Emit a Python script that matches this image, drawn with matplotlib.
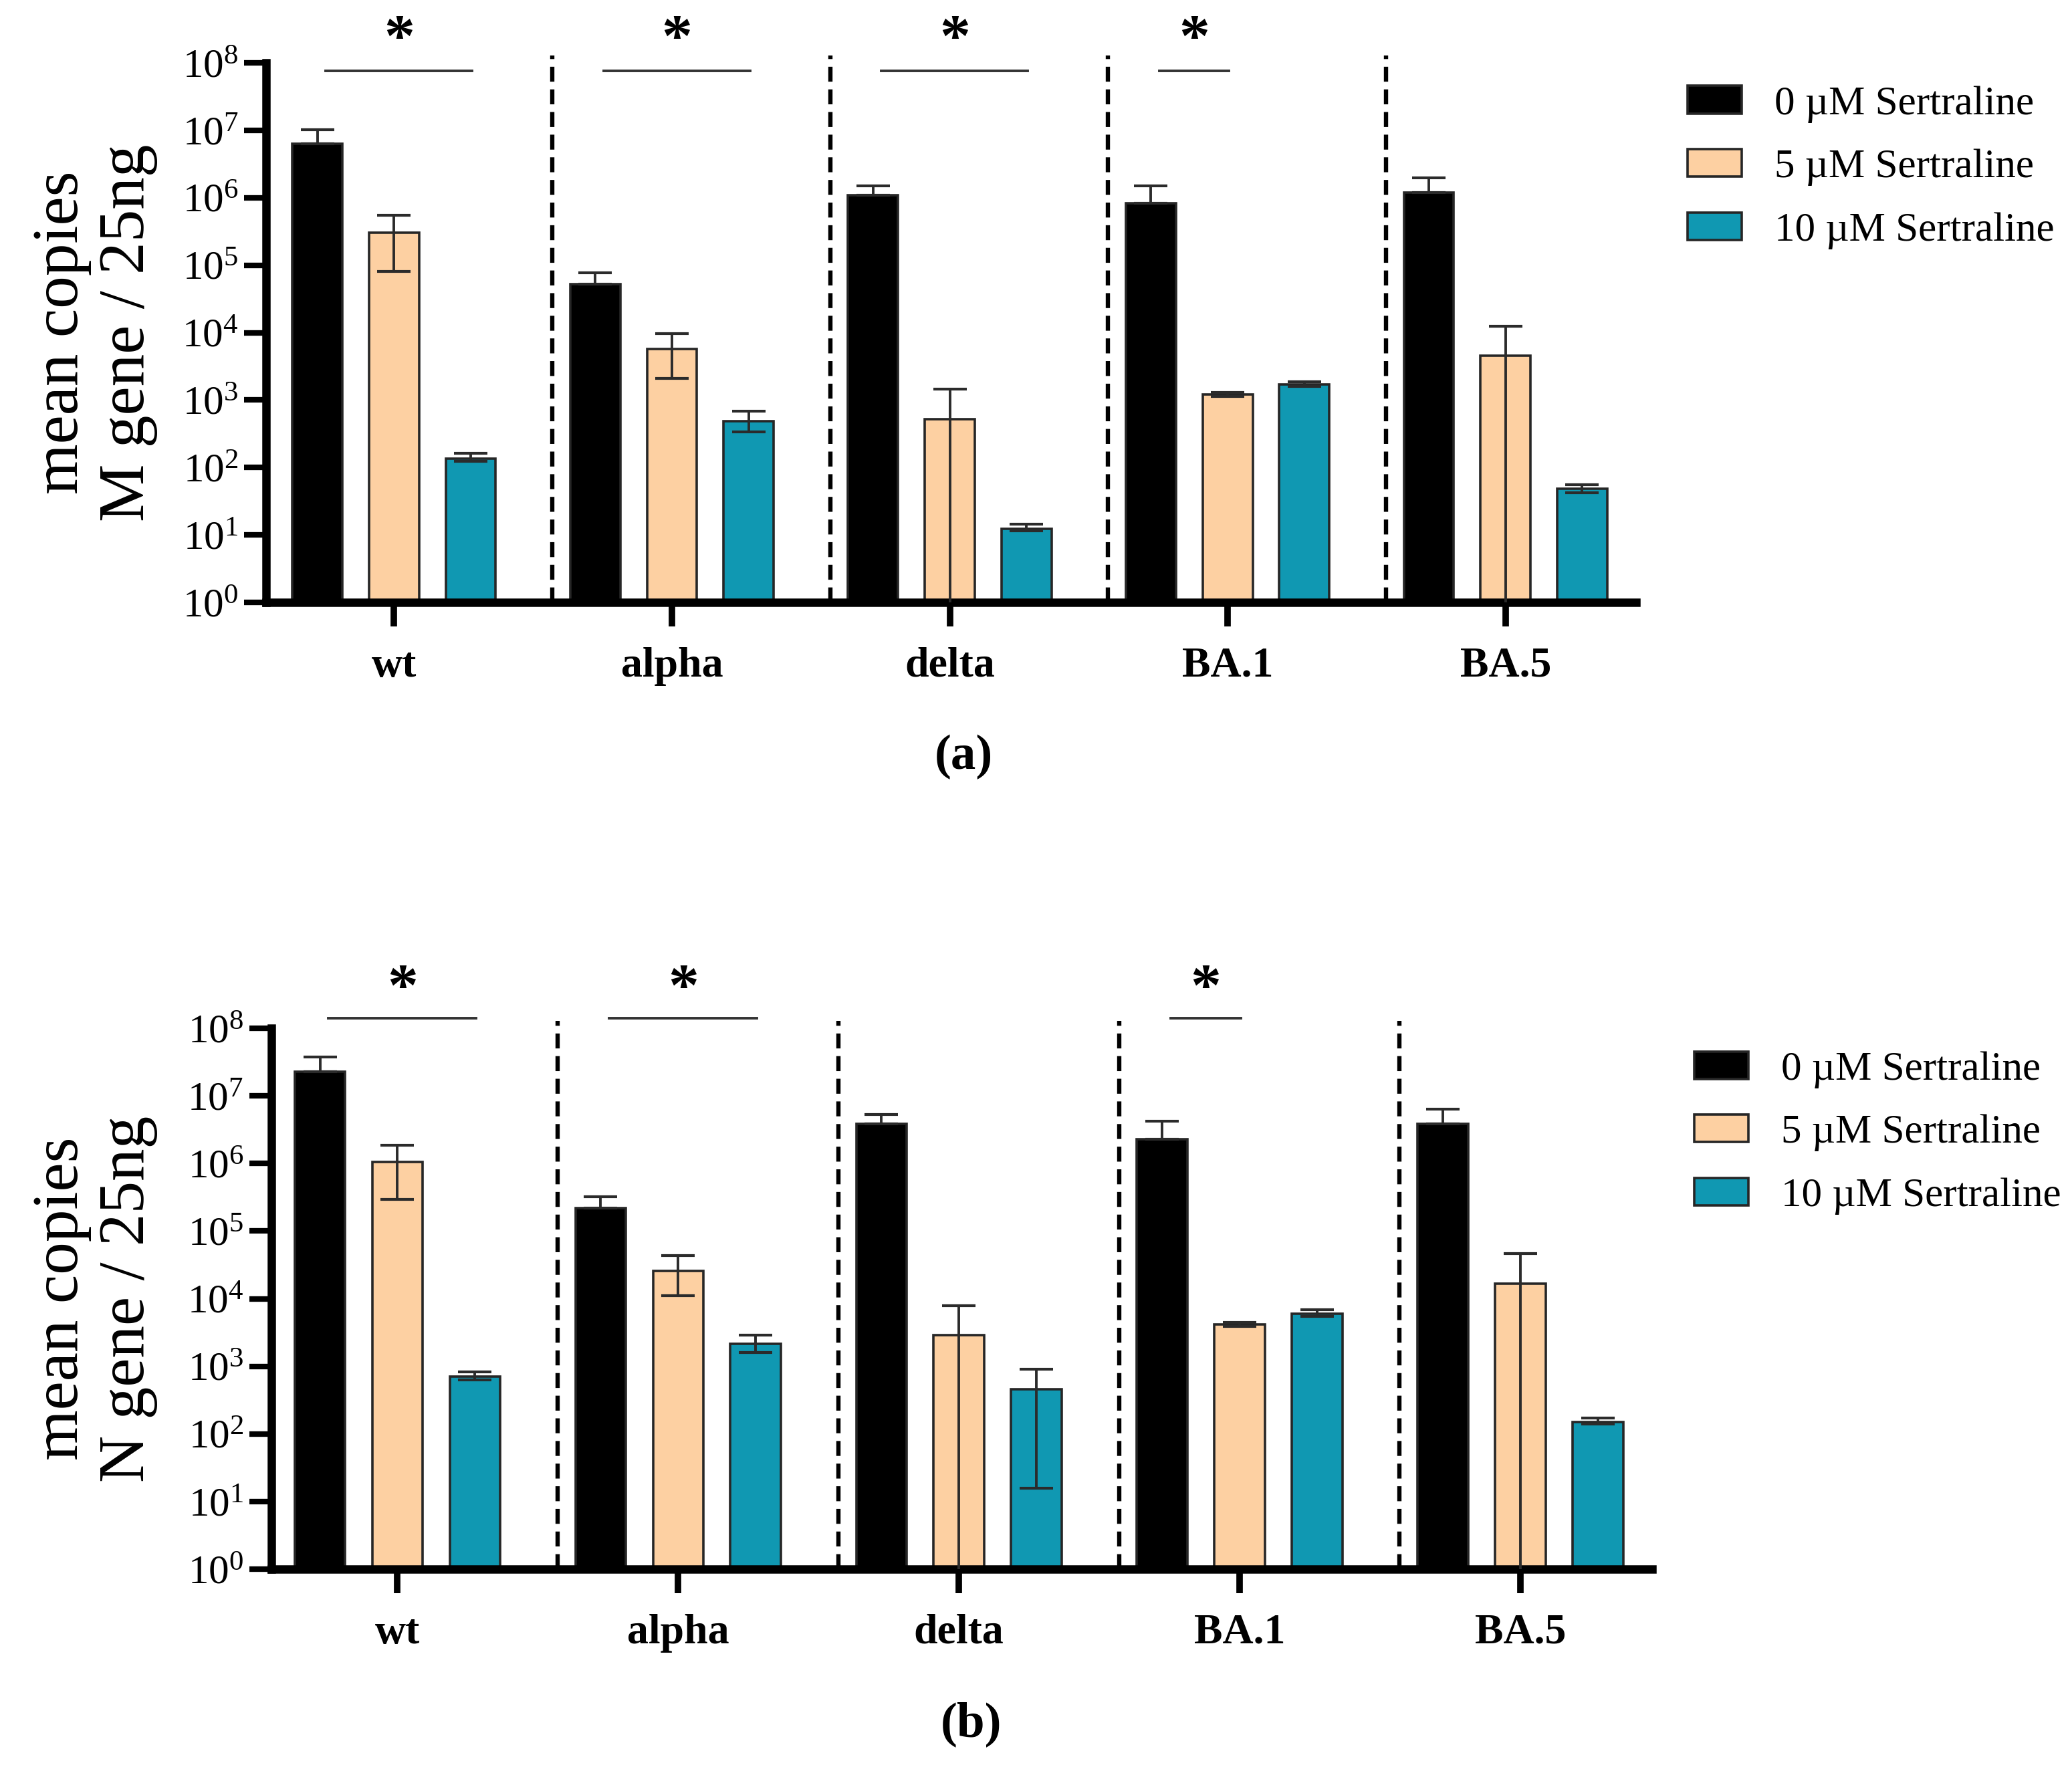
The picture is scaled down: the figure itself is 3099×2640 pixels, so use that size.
import numpy as np
import matplotlib
matplotlib.use("Agg")
import matplotlib.pyplot as plt
from matplotlib.ticker import NullLocator

plt.rcParams['font.family'] = ['Liberation Serif', 'DejaVu Serif']
plt.rcParams['mathtext.fontset'] = 'custom'
plt.rcParams['mathtext.rm'] = 'Liberation Serif'
plt.rcParams['mathtext.it'] = 'Liberation Serif:italic'
plt.rcParams['mathtext.bf'] = 'Liberation Serif:bold'

variants = ['wt', 'alpha', 'delta', 'BA.1', 'BA.5']
doses = ['0 µM Sertraline', '5 µM Sertraline', '10 µM Sertraline']
colors = ['#000000', '#FDD0A2', '#1098B2']

# (a) M gene -- mean copies and error bar ends (lower, upper)
m_mean_0 = [6.3e6, 5.2e4, 1.1e6, 8.3e5, 1.18e6]
m_lo_0 = [6.3e6, 5.2e4, 1.1e6, 8.3e5, 1.18e6]
m_hi_0 = [1.02e7, 7.7e4, 1.5e6, 1.5e6, 1.96e6]
m_mean_5 = [3.0e5, 5.7e3, 520, 1.2e3, 4.5e3]
m_lo_5 = [8.0e4, 2.1e3, 0.5, 1.12e3, 0.5]
m_hi_5 = [5.5e5, 9.6e3, 1.45e3, 1.3e3, 1.24e4]
m_mean_10 = [135, 490, 12.3, 1.7e3, 48]
m_lo_10 = [123, 340, 11.5, 1.6e3, 42]
m_hi_10 = [162, 680, 14.5, 1.86e3, 55]

# (b) N gene
n_mean_0 = [2.3e7, 2.2e5, 3.9e6, 2.3e6, 3.9e6]
n_lo_0 = [2.3e7, 2.2e5, 3.9e6, 2.3e6, 3.9e6]
n_hi_0 = [3.8e7, 3.2e5, 5.3e6, 4.2e6, 6.3e6]
n_mean_5 = [1.05e6, 2.6e4, 2.9e3, 4.2e3, 1.66e4]
n_lo_5 = [2.95e5, 1.1e4, 0.5, 3.9e3, 0.5]
n_hi_5 = [1.87e6, 4.3e4, 7.9e3, 4.5e3, 4.7e4]
n_mean_10 = [708, 2.15e3, 455, 6.0e3, 150]
n_lo_10 = [635, 1.6e3, 15.8, 5.5e3, 140]
n_hi_10 = [830, 2.9e3, 910, 6.9e3, 170]

# significance: variant and last dose group compared with 0 µM
m_sig_variants = ['wt', 'alpha', 'delta', 'BA.1']
m_sig_last = [2, 2, 2, 1]
n_sig_variants = ['wt', 'alpha', 'BA.1']
n_sig_last = [2, 2, 1]

W, H, DPI = 3099, 2640, 200
fig = plt.figure(figsize=(W / DPI, H / DPI), dpi=DPI)

offsets = [-0.276, 0.0, 0.276]
bar_w = 0.18
x = np.arange(len(variants))


def draw_panel(ax, means, lows, highs, sig_vars, sig_last, line_y, star_y, xlim):
    ax.set_yscale('log')
    handles = []
    for k in range(3):
        m = np.array(means[k])
        lo = np.array(lows[k])
        hi = np.array(highs[k])
        b = ax.bar(x + offsets[k], m, bar_w, color=colors[k],
                   edgecolor='#262626', linewidth=1.3, zorder=2)
        handles.append(b)
        ax.errorbar(x + offsets[k], m, yerr=[m - lo, hi - m], fmt='none',
                    ecolor='#2b2b2b', elinewidth=1.4, capsize=9, capthick=1.5, zorder=3)
    ax.set_ylim(1, 1e8)
    ax.set_xlim(*xlim)
    ax.set_yticks([10.0 ** k for k in range(9)])
    ax.set_yticklabels([rf'$\mathregular{{10^{{{k}}}}}$' for k in range(9)])
    ax.yaxis.set_minor_locator(NullLocator())
    ax.set_xticks(x)
    ax.set_xticklabels(variants, fontweight='bold')
    for s in ['top', 'right']:
        ax.spines[s].set_visible(False)
    for s in ['left', 'bottom']:
        ax.spines[s].set_linewidth(4.5)
    ax.tick_params(axis='y', length=12, width=3, labelsize=22, pad=3)
    ax.tick_params(axis='x', length=13, width=3.5, labelsize=23, pad=11)

    # dashed separators between variant groups
    ax.vlines(x[:-1] + 0.57, 1, 10 ** 8.11, colors='black', linewidth=2.3,
              linestyles=(0, (3.5, 1.8)), clip_on=False, zorder=1)

    # significance bars
    for v, last in zip(sig_vars, sig_last):
        i = variants.index(v)
        x0 = i + offsets[0] + 0.03
        x1 = i + offsets[last] + 0.005
        ax.plot([x0, x1], [line_y, line_y], color='#333333', linewidth=1.4,
                clip_on=False)
        ax.text((x0 + x1) / 2, star_y, '*', fontsize=33, fontweight='bold',
                ha='center', va='center', clip_on=False)
    return handles


# panel (a)
ax_a = fig.add_axes([0.1285, 0.6587, 0.661, 0.3057])
h_a = draw_panel(ax_a, [m_mean_0, m_mean_5, m_mean_10], [m_lo_0, m_lo_5, m_lo_10],
                 [m_hi_0, m_hi_5, m_hi_10], m_sig_variants, m_sig_last,
                 10 ** 7.88, 10 ** 8.32, (-0.46, 4.469))
fig.text(0.030, 0.8116, 'mean copies', rotation=90, fontsize=35, ha='center', va='center')
fig.text(0.062, 0.8116, 'M gene / 25ng', rotation=90, fontsize=35, ha='center', va='center')
ax_a.legend(h_a, doses, loc='upper left', bbox_to_anchor=(0.8145, 0.9515),
            bbox_transform=fig.transFigure, frameon=False, fontsize=22,
            handlelength=1.33, handleheight=0.66, handletextpad=0.8,
            labelspacing=0.64, borderpad=0, borderaxespad=0)
fig.text(0.465, 0.571, '(a)', fontsize=27, fontweight='bold', ha='center', va='center')

# panel (b)
ax_b = fig.add_axes([0.131, 0.1110, 0.6663, 0.3064])
h_b = draw_panel(ax_b, [n_mean_0, n_mean_5, n_mean_10], [n_lo_0, n_lo_5, n_lo_10],
                 [n_hi_0, n_hi_5, n_hi_10], n_sig_variants, n_sig_last,
                 10 ** 8.15, 10 ** 8.55, (-0.449, 4.469))
fig.text(0.030, 0.2642, 'mean copies', rotation=90, fontsize=35, ha='center', va='center')
fig.text(0.062, 0.2642, 'N gene / 25ng', rotation=90, fontsize=35, ha='center', va='center')
ax_b.legend(h_b, doses, loc='upper left', bbox_to_anchor=(0.8177, 0.4045),
            bbox_transform=fig.transFigure, frameon=False, fontsize=22,
            handlelength=1.33, handleheight=0.66, handletextpad=0.8,
            labelspacing=0.64, borderpad=0, borderaxespad=0)
fig.text(0.4686, 0.023, '(b)', fontsize=27, fontweight='bold', ha='center', va='center')

fig.savefig('out.png', dpi=DPI)
